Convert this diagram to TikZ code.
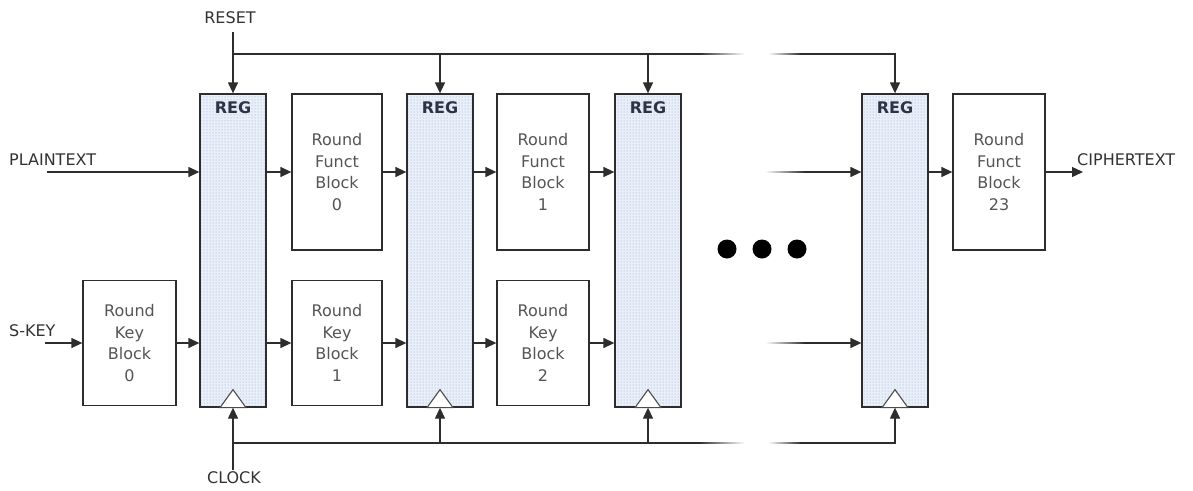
\documentclass[tikz,border=0pt]{standalone}
\usepackage{fontspec}
\setmainfont{DejaVu Sans}
\usetikzlibrary{arrows.meta,patterns}
\definecolor{linec}{RGB}{45,45,45}
\definecolor{regfill}{RGB}{234,240,250}
\definecolor{dotc}{RGB}{140,160,200}
\definecolor{textc}{RGB}{85,85,85}
\definecolor{labc}{RGB}{50,50,50}
\definecolor{regtext}{RGB}{45,50,70}
\begin{document}
\begin{tikzpicture}[x=1pt,y=-1pt,
 line/.style={draw=linec, line width=1.3pt},
 arr/.style={line, -{Triangle[length=11pt,width=10pt]}},
 reg/.style={draw=linec, line width=1.3pt, minimum width=66pt, minimum height=313pt, preaction={fill=regfill}, pattern=dots, pattern color=dotc, inner sep=0pt},
 blk/.style={draw=linec, line width=1.3pt, fill=white, align=center, text=textc, font=\fontsize{16}{21.5}\selectfont, inner sep=0pt},
 lbl/.style={text=labc, font=\fontsize{16}{18}\selectfont, inner sep=0pt},
 regl/.style={text=regtext, font=\bfseries\fontsize{16}{18}\selectfont, inner sep=0pt},
 clk/.style={draw=linec!85, line width=1.1pt, fill=white}
]
\useasboundingbox (0,0) rectangle (1193,490);

% registers
\node[reg] (reg1) at (233,250.5) {};
\node[reg] (reg2) at (440,250.5) {};
\node[reg] (reg3) at (648,250.5) {};
\node[reg] (reg4) at (895,250.5) {};
\foreach \r in {reg1,reg2,reg3,reg4}{
  \node[regl] at ([yshift=-14pt]\r.north) {REG};
  \draw[clk] (\r.south) ++(-13,0) -- ++(13,-18) -- ++(13,18) -- cycle;
}

% round function blocks
\node[blk, minimum width=90pt, minimum height=156pt] (rf0) at (337,172) {Round\\Funct\\Block\\0};
\node[blk, minimum width=92pt, minimum height=156pt] (rf1) at (543,172) {Round\\Funct\\Block\\1};
\node[blk, minimum width=92pt, minimum height=156pt] (rf23) at (999,172) {Round\\Funct\\Block\\23};

% round key blocks
\node[blk, minimum width=93pt, minimum height=125pt] (rk0) at (129.5,343) {Round\\Key\\Block\\0};
\node[blk, minimum width=90pt, minimum height=125pt] (rk1) at (337,343) {Round\\Key\\Block\\1};
\node[blk, minimum width=92pt, minimum height=125pt] (rk2) at (543,343) {Round\\Key\\Block\\2};

% labels
\node[lbl, anchor=west] (pt) at (9,160) {PLAINTEXT};
\node[lbl] (rs) at (230,18) {RESET};
\node[lbl] (ck) at (234,478) {CLOCK};
\node[lbl, anchor=west] (sk) at (9,331) {S-KEY};
\node[lbl, anchor=west] (ct) at (1077,160) {CIPHERTEXT};

% coordinates
\coordinate (ptin) at (47,172);
\coordinate (skin) at (45,343);
\coordinate (ctout) at (1083,172);
\coordinate (rtop) at (233,32);
\coordinate (cbot) at (233,470);
\coordinate (tbus) at (0,54);
\coordinate (bbus) at (0,443);
\coordinate (frow) at (0,172);
\coordinate (krow) at (0,343);

% data path
\draw[arr] (ptin) -- (reg1.west |- frow);
\draw[arr] (reg1.east |- frow) -- (rf0.west);
\draw[arr] (rf0.east) -- (reg2.west |- frow);
\draw[arr] (reg2.east |- frow) -- (rf1.west);
\draw[arr] (rf1.east) -- (reg3.west |- frow);
\draw[arr] (reg4.east |- frow) -- (rf23.west);
\draw[arr] (rf23.east) -- (ctout);

\draw[arr] (skin) -- (rk0.west);
\draw[arr] (rk0.east) -- (reg1.west |- krow);
\draw[arr] (reg1.east |- krow) -- (rk1.west);
\draw[arr] (rk1.east) -- (reg2.west |- krow);
\draw[arr] (reg2.east |- krow) -- (rk2.west);
\draw[arr] (rk2.east) -- (reg3.west |- krow);

% faded inputs into last register
\shade[left color=white, right color=linec] (765,171.35) rectangle (805,172.65);
\draw[arr] (804,172) -- (reg4.west |- frow);
\shade[left color=white, right color=linec] (765,342.35) rectangle (805,343.65);
\draw[arr] (804,343) -- (reg4.west |- krow);

% reset bus
\draw[arr] (rtop) -- (reg1.north);
\draw[line] (reg1.north |- tbus) -- (700,54);
\shade[left color=linec, right color=white] (699,53.35) rectangle (745,54.65);
\shade[left color=white, right color=linec] (768,53.35) rectangle (801,54.65);
\draw[arr] (800,54) -| (reg4.north);
\draw[arr] (reg2.north |- tbus) -- (reg2.north);
\draw[arr] (reg3.north |- tbus) -- (reg3.north);

% clock bus
\draw[arr] (cbot) -- (reg1.south);
\draw[line] (reg1.south |- bbus) -- (700,443);
\shade[left color=linec, right color=white] (699,442.35) rectangle (745,443.65);
\shade[left color=white, right color=linec] (768,442.35) rectangle (801,443.65);
\draw[arr] (800,443) -| (reg4.south);
\draw[arr] (reg2.south |- bbus) -- (reg2.south);
\draw[arr] (reg3.south |- bbus) -- (reg3.south);

% ellipsis dots
\fill (727,249) circle[radius=9.5pt];
\fill (762,249) circle[radius=9.5pt];
\fill (797,249) circle[radius=9.5pt];
\end{tikzpicture}
\end{document}
